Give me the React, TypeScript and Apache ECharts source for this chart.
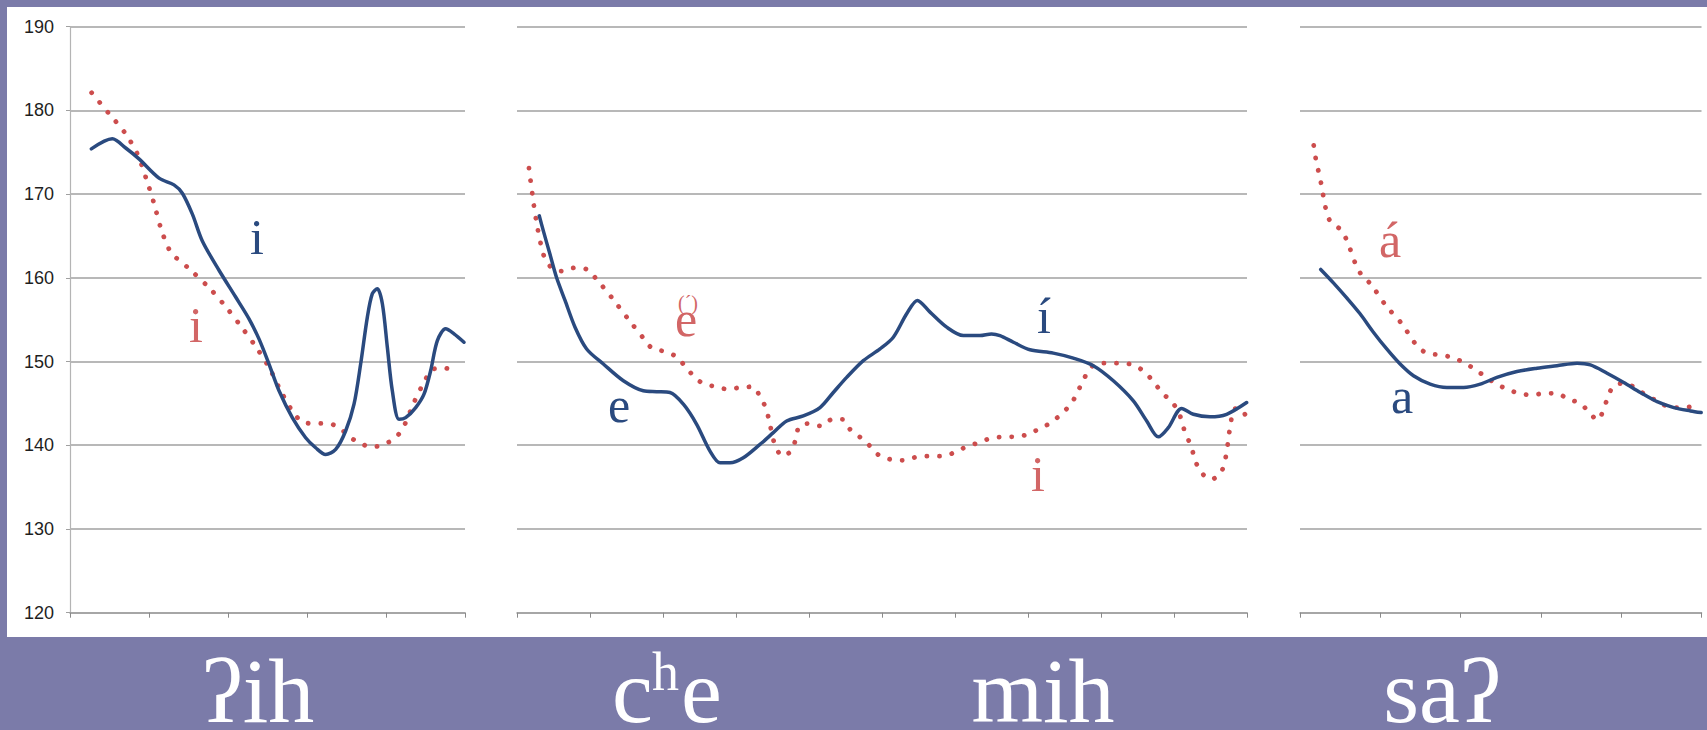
import React, { useEffect, useRef } from 'react';
import * as echarts from 'echarts';

// ---- data ----
const yMin = 120;
const yMax = 190;
const yStep = 10;
// number of x tick intervals in each panel
const panelIntervals = [5, 10, 5];

// [time (tick units), F0 Hz]
const ihBlue: number[][] = [
  [0.27, 175.4], [0.536, 176.6], [0.705, 175.5], [0.873, 174.2], [1.127, 171.9], [1.316, 171.1],
  [1.422, 170.1], [1.549, 167.6], [1.675, 164.4], [1.886, 160.9], [2.097, 157.7], [2.266, 155.1],
  [2.392, 152.7], [2.519, 149.7], [2.646, 146.5], [2.814, 143.3], [2.983, 140.9], [3.11, 139.7],
  [3.236, 138.9], [3.363, 139.5], [3.489, 141.7], [3.595, 144.9], [3.679, 149.7], [3.764, 155.3],
  [3.827, 158.1], [3.89, 158.7], [3.954, 156.9], [4.017, 151.7], [4.08, 146.5], [4.165, 143.1],
  [4.249, 143.3], [4.376, 144.5], [4.481, 146.1], [4.565, 148.9], [4.65, 152.5], [4.755, 153.9],
  [4.861, 153.3], [4.987, 152.3],
];
const ihRed: number[][] = [
  [0.274, 182.1], [0.485, 179.7], [0.696, 177.3], [0.852, 174.8], [0.966, 171.8], [1.063, 168.9],
  [1.148, 166.0], [1.274, 163.1], [1.506, 161.1], [1.751, 158.9], [1.958, 156.7], [2.165, 154.2],
  [2.35, 151.8], [2.519, 149.3], [2.667, 146.5], [2.835, 143.8], [2.962, 142.7], [3.118, 142.6],
  [3.274, 142.6], [3.418, 142.0], [3.54, 141.0], [3.679, 140.2], [3.835, 139.8], [3.996, 140.2],
  [4.131, 141.0], [4.228, 142.3], [4.354, 145.1], [4.502, 147.9], [4.595, 149.1], [4.755, 149.2],
  [4.907, 148.5],
];
const cheMihBlue: number[][] = [
  [0.305, 167.4], [0.361, 165.6], [0.452, 162.8], [0.543, 160.0], [0.658, 157.3], [0.795, 154.1],
  [0.954, 151.5], [1.183, 149.7], [1.457, 147.7], [1.73, 146.5], [1.913, 146.4], [2.096, 146.3],
  [2.279, 144.9], [2.461, 142.5], [2.644, 139.3], [2.781, 137.9], [2.918, 137.9], [3.1, 138.5],
  [3.329, 140.1], [3.511, 141.5], [3.694, 142.9], [3.922, 143.5], [4.151, 144.5], [4.333, 146.3],
  [4.516, 148.1], [4.744, 150.1], [4.973, 151.5], [5.155, 152.9], [5.338, 155.7], [5.484, 157.3],
  [5.658, 155.9], [5.886, 154.1], [6.114, 153.1], [6.342, 153.1], [6.5, 153.3], [6.616, 153.1], [6.8, 152.3],
  [7.027, 151.4], [7.347, 151.0], [7.62, 150.4], [7.895, 149.5], [8.169, 147.7], [8.443, 145.3],
  [8.626, 142.9], [8.785, 141.0], [8.922, 142.1], [9.105, 144.4], [9.265, 143.7], [9.493, 143.4],
  [9.721, 143.7], [9.995, 145.1],
];
const cheMihRed: number[][] = [
  [0.164, 173.1], [0.21, 170.0], [0.26, 167.0], [0.329, 163.9], [0.379, 162.4], [0.475, 161.2],
  [0.621, 160.8], [0.795, 161.2], [0.959, 161.0], [1.082, 159.9], [1.301, 157.6], [1.521, 155.1],
  [1.74, 152.7], [1.849, 151.6], [2.018, 151.2], [2.178, 150.6], [2.297, 149.5], [2.416, 148.3],
  [2.543, 147.4], [2.717, 147.0], [2.886, 146.7], [3.059, 146.9], [3.233, 147.0], [3.329, 145.8],
  [3.411, 144.4], [3.457, 142.8], [3.539, 139.9], [3.64, 138.7], [3.763, 139.4], [3.822, 140.9],
  [3.868, 142.3], [4.0, 142.6], [4.164, 142.3], [4.32, 143.1], [4.457, 143.1], [4.562, 141.9],
  [4.708, 140.9], [4.836, 139.9], [4.959, 138.8], [5.123, 138.3], [5.301, 138.2], [5.475, 138.6],
  [5.648, 138.7], [5.817, 138.7], [5.986, 139.1], [6.151, 139.8], [6.32, 140.3], [6.479, 140.8],
  [6.653, 141.0], [6.822, 141.0], [6.995, 141.3], [7.164, 142.0], [7.315, 142.7], [7.452, 143.7],
  [7.576, 144.8], [7.667, 146.1], [7.74, 147.5], [7.826, 148.8], [7.941, 149.8], [8.123, 149.8],
  [8.297, 149.8], [8.466, 149.5], [8.603, 148.7], [8.726, 147.5], [8.845, 146.2], [8.968, 145.2],
  [9.068, 143.9], [9.114, 142.5], [9.174, 141.1], [9.242, 139.7], [9.288, 138.2], [9.379, 136.7],
  [9.507, 135.9], [9.64, 136.7], [9.699, 138.2], [9.731, 139.8], [9.753, 141.3], [9.781, 142.8],
  [9.813, 144.3], [9.913, 144.4], [9.986, 143.4],
];
const saBlue: number[][] = [
  [0.258, 161.0], [0.416, 159.4], [0.582, 157.6], [0.748, 155.7], [0.914, 153.5], [1.08, 151.5],
  [1.247, 149.7], [1.413, 148.3], [1.621, 147.3], [1.829, 146.9], [2.037, 146.9], [2.245, 147.3],
  [2.452, 148.1], [2.702, 148.8], [2.951, 149.2], [3.2, 149.5], [3.45, 149.8], [3.616, 149.6],
  [3.824, 148.6], [4.031, 147.5], [4.239, 146.3], [4.447, 145.2], [4.655, 144.5], [4.863, 144.1],
  [4.996, 143.9],
];
const saRed: number[][] = [
  [0.171, 175.8], [0.195, 174.3], [0.262, 171.3], [0.32, 168.3], [0.374, 166.8], [0.499, 165.8],
  [0.582, 164.5], [0.694, 161.6], [0.769, 160.3], [0.885, 159.2], [1.068, 156.7], [1.268, 154.5],
  [1.455, 151.9], [1.579, 151.0], [1.733, 150.8], [1.891, 150.5], [2.036, 149.9], [2.174, 149.1],
  [2.307, 148.2], [2.432, 147.4], [2.577, 146.7], [2.727, 146.2], [2.885, 146.0], [3.042, 146.2],
  [3.2, 146.2], [3.338, 145.5], [3.491, 145.0], [3.603, 143.9], [3.707, 143.0], [3.782, 144.3],
  [3.832, 145.7], [3.907, 147.1], [4.052, 147.4], [4.198, 146.7], [4.322, 145.9], [4.468, 145.2],
  [4.613, 144.5], [4.771, 144.5], [4.925, 144.7],
];

const syllables = ['ʔih', 'c', 'h', 'e', 'mih', 'saʔ'];
const vowelLabels = ['i', 'i', 'e', 'e', '(´)', 'í', 'i', 'á', 'a'];

// ---- style ----
const PURPLE = '#7b7ba9';
const BLUE = '#2a4a7f';
const RED = '#cc4d4d';
const RED_TEXT = '#d26666';
const GRIDC = '#a0a0a0';
const SERIF = '"Liberation Serif", "DejaVu Serif", serif';

const GRID_TOP = 26.6;
const GRID_H = 586.1;
const gridBoxes = [
  { left: 70, width: 395 },
  { left: 517, width: 730 },
  { left: 1300, width: 401.5 },
];

function buildOption(): any {
  const grid = gridBoxes.map((g) => ({ left: g.left, width: g.width, top: GRID_TOP, height: GRID_H, containLabel: false }));
  const xAxis = panelIntervals.map((n, i) => ({
    type: 'value',
    gridIndex: i,
    min: 0,
    max: n,
    interval: 1,
    axisLabel: { show: false },
    splitLine: { show: false },
    axisLine: { show: true, lineStyle: { color: GRIDC, width: 1.6 } },
    axisTick: { show: true, length: 5, lineStyle: { color: '#8a8a8a', width: 1 } },
  }));
  const yAxis = panelIntervals.map((_, i) => ({
    type: 'value',
    gridIndex: i,
    min: yMin,
    max: yMax,
    interval: yStep,
    axisLine: { show: i === 0, lineStyle: { color: '#b4b4b4', width: 1.2 } },
    axisTick: { show: i === 0, length: 4, lineStyle: { color: '#a0a0a0' } },
    axisLabel: {
      show: i === 0,
      margin: 16,
      fontSize: 18,
      fontFamily: '"Liberation Sans", Arial, sans-serif',
      color: '#1e1e1e',
    },
    splitLine: { show: true, lineStyle: { color: GRIDC, width: 1.6 } },
  }));

  const blueLine = (data: number[][], idx: number) => ({
    type: 'line',
    xAxisIndex: idx,
    yAxisIndex: idx,
    data,
    smooth: 0.3,
    showSymbol: false,
    symbol: 'none',
    lineStyle: { color: BLUE, width: 3.5, cap: 'round', join: 'round' },
    z: 3,
  });
  const redLine = (data: number[][], idx: number) => ({
    type: 'line',
    xAxisIndex: idx,
    yAxisIndex: idx,
    data,
    smooth: 0.3,
    showSymbol: false,
    symbol: 'none',
    lineStyle: { color: RED, width: 4.8, type: [0.1, 12.5], cap: 'round' },
    z: 2,
  });

  const serifText = (
    text: string,
    x: number,
    baseline: number,
    size: number,
    fill: string,
    align = 'center',
    lineHeight?: number
  ) => ({
    type: 'text',
    x,
    y: baseline - 0.3375 * size,
    z: 10,
    style: {
      text,
      fill,
      fontSize: size,
      fontFamily: SERIF,
      textAlign: align,
      textVerticalAlign: 'middle',
      lineHeight: lineHeight ?? size,
    },
  });

  const graphic = [
    { type: 'rect', shape: { x: 0, y: 0, width: 1707, height: 7 }, style: { fill: PURPLE }, z: 5 },
    { type: 'rect', shape: { x: 0, y: 0, width: 7, height: 730 }, style: { fill: PURPLE }, z: 5 },
    { type: 'rect', shape: { x: 0, y: 637, width: 1707, height: 93 }, style: { fill: PURPLE }, z: 5 },
    // syllables
    serifText(syllables[0], 258, 722, 92, '#ffffff', 'center', 64),
    serifText(syllables[1], 612, 722, 92, '#ffffff', 'left', 64),
    serifText(syllables[2], 652, 690, 54, '#ffffff', 'left', 40),
    serifText(syllables[3], 681, 722, 92, '#ffffff', 'left', 64),
    serifText(syllables[4], 1043, 722, 92, '#ffffff', 'center', 64),
    serifText(syllables[5], 1442, 722, 92, '#ffffff', 'center', 64),
    // vowel labels
    serifText(vowelLabels[0], 257, 254, 50, BLUE),
    serifText(vowelLabels[1], 196, 342, 50, RED_TEXT),
    serifText(vowelLabels[2], 619, 422, 50, BLUE),
    serifText(vowelLabels[3], 686, 336, 50, RED_TEXT, 'center', 24),
    serifText(vowelLabels[4], 688, 310, 20, RED_TEXT, 'center', 10),
    serifText(vowelLabels[5], 1044, 333, 50, BLUE),
    serifText(vowelLabels[6], 1038, 491, 50, RED_TEXT),
    serifText(vowelLabels[7], 1390, 257, 50, RED_TEXT),
    serifText(vowelLabels[8], 1402, 413, 50, BLUE),
  ];

  return {
    animation: false,
    backgroundColor: '#ffffff',
    grid,
    xAxis,
    yAxis,
    series: [
      redLine(ihRed, 0),
      blueLine(ihBlue, 0),
      redLine(cheMihRed, 1),
      blueLine(cheMihBlue, 1),
      redLine(saRed, 2),
      blueLine(saBlue, 2),
    ],
    graphic,
  };
}

export default function App() {
  const ref = useRef<HTMLDivElement>(null);
  useEffect(() => {
    if (!ref.current) return;
    const chart = echarts.init(ref.current, null, { renderer: 'svg' });
    chart.setOption(buildOption());
    return () => chart.dispose();
  }, []);
  return <div ref={ref} style={{ position: 'absolute', left: 0, top: 0, width: 1707, height: 730 }} />;
}
